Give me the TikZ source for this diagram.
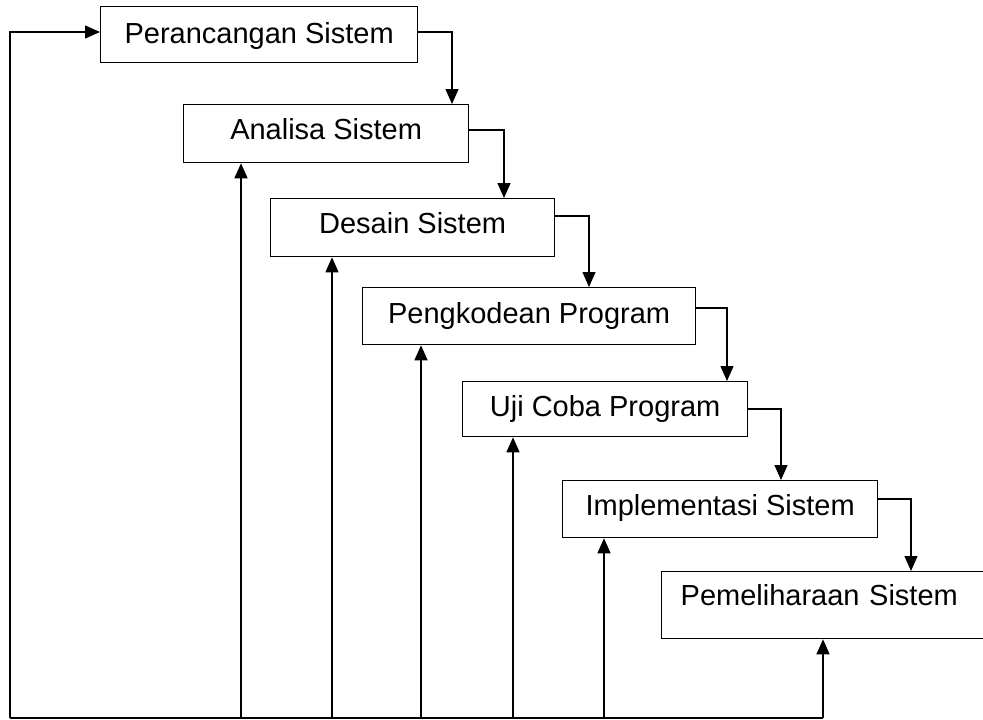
\documentclass[tikz,border=0pt]{standalone}
\usepackage{fontspec}
\setmainfont{Liberation Sans}
\usetikzlibrary{arrows.meta}
\begin{document}
\begin{tikzpicture}[x=1pt,y=-1pt,
  box/.style={draw=black,line width=1.3pt,inner xsep=0pt,inner ysep=0pt,
    font=\fontsize{29}{34}\selectfont,anchor=north west},
  conn/.style={line width=1.3pt,-{Triangle[width=13pt,length=15pt]}},
  plain/.style={line width=1.3pt}]
\useasboundingbox (0,0) rectangle (983,720);
\fill[white] (0,0) rectangle (983,720);
% boxes: minimum width, text height (top->baseline), text depth (baseline->bottom)
\node[box,minimum width=317pt,text height=37pt,text depth=19pt] (b1) at (100,6) {Perancangan Sistem};
\node[box,minimum width=285pt,text height=35pt,text depth=23pt] (b2) at (183,104) {Analisa Sistem};
\node[box,minimum width=284pt,text height=35pt,text depth=23pt] (b3) at (270,198) {Desain Sistem};
\node[box,minimum width=333pt,text height=36pt,text depth=21pt] (b4) at (362,287) {Pengkodean Program};
\node[box,minimum width=285pt,text height=35pt,text depth=20pt] (b5) at (462,381) {Uji Coba Program};
\node[box,minimum width=315pt,text height=35pt,text depth=22pt] (b6) at (562,480) {Implementasi Sistem};
\node[box,text width=296pt,align=left,inner xsep=19pt,text height=34pt,text depth=33pt] (b7) at (661,571) {Pemeliharaan Sistem};
% forward connectors
\draw[conn] (b1.east |- 0,32) -| (452,0 |- b2.north);
\draw[conn] (b2.east |- 0,130) -| (504,0 |- b3.north);
\draw[conn] (b3.east |- 0,216) -| (589,0 |- b4.north);
\draw[conn] (b4.east |- 0,308) -| (727,0 |- b5.north);
\draw[conn] (b5.east |- 0,409) -| (781,0 |- b6.north);
\draw[conn] (b6.east |- 0,499) -| (911,0 |- b7.north);
% feedback lines
\coordinate (bl) at (10,718);
\coordinate (br) at (823,718);
\draw[plain] (bl) -- (br);
\draw[conn] (bl) |- (b1.west |- 0,32);
\draw[conn] (241,718) -- (241,0 |- b2.south);
\draw[conn] (332,718) -- (332,0 |- b3.south);
\draw[conn] (421,718) -- (421,0 |- b4.south);
\draw[conn] (513,718) -- (513,0 |- b5.south);
\draw[conn] (604,718) -- (604,0 |- b6.south);
\draw[conn] (br) -- (823,0 |- b7.south);
\end{tikzpicture}
\end{document}
